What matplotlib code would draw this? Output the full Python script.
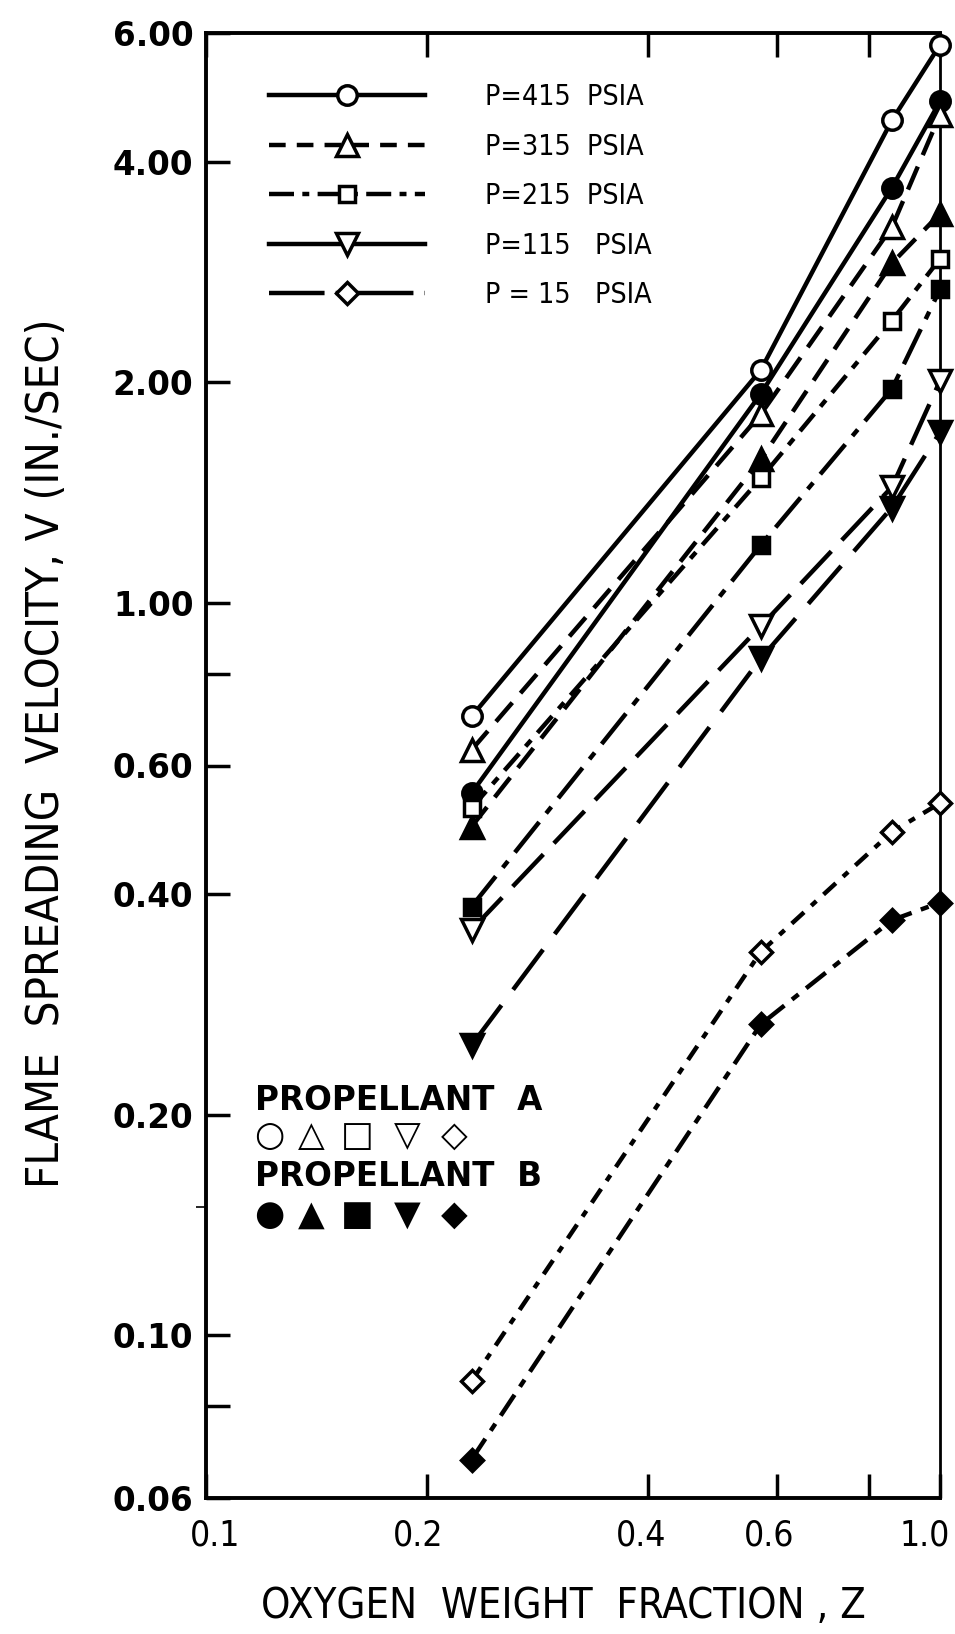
import matplotlib
matplotlib.use('Agg')
import matplotlib.pyplot as plt
import matplotlib.transforms as mtrans
from matplotlib.lines import Line2D
from matplotlib import font_manager
from matplotlib.font_manager import FontProperties
from matplotlib.ticker import FixedLocator, NullLocator, FixedFormatter

# ---------------- data ----------------
z = [0.23, 0.57, 0.86, 1.0]

v415_a = [0.70, 2.08, 4.56, 5.78]
v415_b = [0.55, 1.93, 3.69, 4.84]
v315_a = [0.63, 1.81, 3.26, 4.64]
v315_b = [0.495, 1.57, 2.91, 3.40]
v215_a = [0.525, 1.48, 2.43, 2.95]
v215_b = [0.385, 1.20, 1.96, 2.68]
v115_a = [0.358, 0.93, 1.44, 2.01]
v115_b = [0.249, 0.84, 1.35, 1.71]
v15_a = [0.0866, 0.334, 0.487, 0.533]
v15_b = [0.0677, 0.266, 0.369, 0.390]

legend_labels = ["P=415  PSIA", "P=315  PSIA", "P=215  PSIA", "P=115   PSIA", "P = 15   PSIA"]

x_ticks = [0.1, 0.2, 0.4, 0.6, 0.8, 1.0]
x_ticklabels = ["0.1", "0.2", "0.4", "0.6", "", "1.0"]
y_ticks = [0.06, 0.08, 0.1, 0.2, 0.4, 0.6, 0.8, 1.0, 2.0, 4.0, 6.0]
y_ticklabels = ["0.06", "", "0.10", "0.20", "0.40", "0.60", "", "1.00", "2.00", "4.00", "6.00"]


# ---------------- fonts ----------------
def _w(f):
    w = f.weight
    if isinstance(w, (int, float)):
        return int(w)
    return {'normal': 400, 'regular': 400, 'book': 400, 'roman': 400,
            'medium': 500, 'semibold': 600, 'demibold': 600, 'bold': 700,
            'light': 300}.get(str(w).lower(), 400)


def pick_narrow():
    best = None
    best_score = -1
    for f in font_manager.fontManager.ttflist:
        nm = f.name.lower()
        st = str(f.stretch).lower()
        if f.style != 'normal':
            continue
        if 'mono' in nm or ('serif' in nm and 'sans' not in nm):
            continue
        w = _w(f)
        if not (350 <= w <= 560):
            continue
        narrowish = ('narrow' in nm) or ('condensed' in nm) or ('condensed' in st)
        if not narrowish or 'extra' in st or 'ultra' in st or 'extra' in nm:
            continue
        if 'liberation sans narrow' in nm:
            score = 5
        elif 'dejavu' in nm:
            score = 4
        elif 'semi' in st or 'semi' in nm:
            score = 2
        else:
            score = 3
        if score > best_score:
            best_score = score
            best = f.fname
    return best


_narrow_path = pick_narrow()


def nfont(size):
    if _narrow_path:
        return FontProperties(fname=_narrow_path, size=size)
    return FontProperties(family='Liberation Sans', size=size)


NARROW_OK = _narrow_path is not None

plt.rcParams['lines.scale_dashes'] = False

W, H = 955, 1634
fig = plt.figure(figsize=(W / 100, H / 100), dpi=100)
L, R, T, B = 206, 940, 33, 1498
ax = fig.add_axes([L / W, 1 - B / H, (R - L) / W, (B - T) / H])
ax.set_xscale('log')
ax.set_yscale('log')

LW = 3.2
# styles (not data)
styles = [
    (v415_a, 'o', False, None, 14),
    (v415_b, 'o', True, None, 14),
    (v315_a, '^', False, (18, 9), 16),
    (v315_b, '^', True, (18, 9), 16),
    (v215_a, 's', False, (16, 7, 6, 7), 12),
    (v215_b, 's', True, (28, 8, 6, 8), 12),
    (v115_a, 'v', False, (32, 11), 16),
    (v115_b, 'v', True, (36, 14), 16),
    (v15_a, 'D', False, (12, 7, 5, 7), 11),
    (v15_b, 'D', True, (18, 7, 6, 7), 11),
]
for vals, mk, filled, dash, ms in styles:
    line, = ax.plot(z, vals, color='black', lw=LW, marker=mk, ms=ms,
                    mfc='black' if filled else 'white', mec='black', mew=2.5,
                    clip_on=False, zorder=3)
    if dash is not None:
        line.set_dashes(dash)

ax.set_xlim(0.1, 1.0)
ax.set_ylim(0.06, 6.0)

ax.xaxis.set_major_locator(FixedLocator(x_ticks))
ax.xaxis.set_major_formatter(FixedFormatter(x_ticklabels))
ax.xaxis.set_minor_locator(NullLocator())
ax.yaxis.set_major_locator(FixedLocator(y_ticks))
ax.yaxis.set_major_formatter(FixedFormatter(y_ticklabels))
ax.yaxis.set_minor_locator(FixedLocator([0.15]))
ax.yaxis.set_minor_formatter(FixedFormatter([""]))

ax.tick_params(axis='x', which='major', direction='in', top=True, bottom=True,
               length=17, width=2.5, pad=15)
ax.tick_params(axis='y', which='major', direction='in', left=True, right=False,
               length=17, width=2.5, pad=9)
ax.tick_params(axis='y', which='minor', direction='out', left=True, right=False,
               length=7, width=1.2)

xt_size = 25.5 if NARROW_OK else 22
x_label_shift_px = [9, -9, -7, -8, 0, -15]
for lab, dx in zip(ax.get_xticklabels(), x_label_shift_px):
    lab.set_fontproperties(nfont(xt_size))
    lab.set_transform(lab.get_transform() +
                      mtrans.ScaledTranslation(dx / 100, 0, fig.dpi_scale_trans))
for lab in ax.get_yticklabels():
    lab.set_fontfamily('DejaVu Sans')
    lab.set_fontweight('bold')
    lab.set_fontsize(23.5)

for s in ['left', 'bottom', 'top']:
    ax.spines[s].set_linewidth(2.8)
ax.spines['right'].set_linewidth(2.0)

ax.set_xlabel("OXYGEN  WEIGHT  FRACTION , Z",
              fontproperties=nfont(30 if NARROW_OK else 27), va='center')
ax.xaxis.set_label_coords((563 - L) / (R - L), (B - 1606) / (B - T))
ax.set_ylabel("FLAME  SPREADING  VELOCITY, V (IN./SEC)",
              fontproperties=nfont(32.6 if NARROW_OK else 30), va='center')
ax.yaxis.set_label_coords((47 - L) / (R - L), (B - 753) / (B - T))

# legend proxies
handles = [
    Line2D([], [], color='black', lw=LW, marker='o', ms=14, mfc='white', mec='black', mew=2.5),
    Line2D([], [], color='black', lw=LW, marker='^', ms=16, mfc='white', mec='black', mew=2.5, dashes=(12, 8)),
    Line2D([], [], color='black', lw=LW, marker='s', ms=12, mfc='white', mec='black', mew=2.5, dashes=(18, 6, 5, 6)),
    Line2D([], [], color='black', lw=LW, marker='v', ms=16, mfc='white', mec='black', mew=2.5),
    Line2D([], [], color='black', lw=LW, marker='D', ms=11, mfc='white', mec='black', mew=2.5, dashes=(40, 8, 8, 8)),
]
leg_size = 20.5 if NARROW_OK else 19
leg_px = leg_size * 100 / 72
leg = ax.legend(handles, legend_labels, loc='upper left',
                bbox_to_anchor=((269 - L) / (R - L), (B - 83) / (B - T)),
                frameon=False, borderpad=0, borderaxespad=0, numpoints=1,
                handlelength=156 / leg_px, handletextpad=60 / leg_px,
                labelspacing=21.6 / leg_px,
                prop=nfont(leg_size))

# propellant key
ax.text((255 - L) / (R - L), (B - 1100) / (B - T), "PROPELLANT  A",
        transform=ax.transAxes, fontfamily='DejaVu Sans', fontweight='bold',
        fontsize=23.5, va='center', ha='left')
ax.text((255 - L) / (R - L), (B - 1176) / (B - T), "PROPELLANT  B",
        transform=ax.transAxes, fontfamily='DejaVu Sans', fontweight='bold',
        fontsize=23.5, va='center', ha='left')
open_syms = ["○", "△", "□", "▽", "◇"]
filled_syms = ["●", "▲", "■", "▼", "◆"]
sym_x = [269, 311, 357, 407, 454]
for sx, so, sf in zip(sym_x, open_syms, filled_syms):
    ax.text((sx - L) / (R - L), (B - 1136) / (B - T), so, transform=ax.transAxes,
            fontfamily='DejaVu Sans', fontweight='bold', fontsize=25, ha='center', va='center')
    ax.text((sx - L) / (R - L), (B - 1215) / (B - T), sf, transform=ax.transAxes,
            fontfamily='DejaVu Sans', fontsize=25, ha='center', va='center')

fig.savefig('out.png', dpi=100)
